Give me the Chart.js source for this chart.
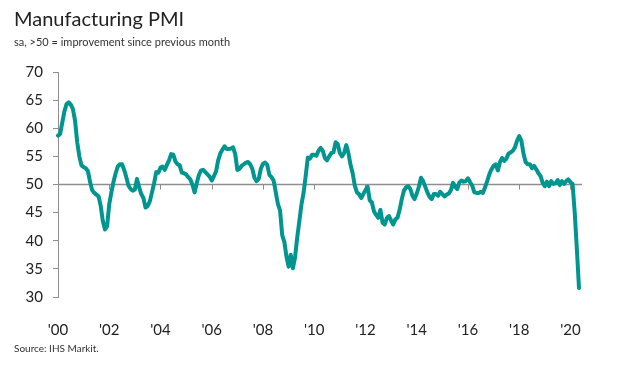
<!DOCTYPE html>
<html>
<head>
<meta charset="utf-8">
<script src="https://cdn.jsdelivr.net/npm/chart.js@4/dist/chart.umd.min.js"></script>
<style>
  body { margin: 0; background: #fff; font-family: Lato, "Open Sans", sans-serif; }
  #wrap { position: relative; width: 626px; height: 367px; }
  #chart { position: absolute; left: 0; top: 0; }
  .txt { position: absolute; left: 14px; color: #222; white-space: nowrap; }
  #titulo { top: 6px; font-size: 20px; }
  #sub { top: 35px; font-size: 11px; color: #333; }
  #fonte { top: 342px; font-size: 10px; color: #333; }
</style>
</head>
<body>
<div id="wrap">
  <canvas id="chart" width="626" height="367"></canvas>
  <div class="txt" id="titulo">Manufacturing PMI</div>
  <div class="txt" id="sub">sa, &gt;50 = improvement since previous month</div>
  <div class="txt" id="fonte">Source: IHS Markit.</div>
</div>
<script>
// leituras mensais, jan/2000 em diante
const pmi2000_2004 = [
  58.7, 59.0, 61.0, 63.0, 64.3, 64.6, 64.2, 63.4, 61.3, 57.5, 55.0, 53.4,
  53.1, 52.9, 52.4, 50.5, 49.0, 48.5, 48.2, 47.9, 46.2, 43.5, 42.0, 42.6,
  46.5, 48.6, 50.5, 52.0, 53.2, 53.6, 53.6, 52.6, 51.3, 49.8, 49.2, 48.9,
  49.1, 51.0, 49.5, 48.3, 47.6, 45.9, 46.2, 47.0, 48.6, 50.2, 52.2, 52.1,
  53.0, 53.2, 52.6, 53.5, 54.3, 55.4, 55.3, 54.1, 53.6, 53.4, 52.1, 52.0
];
const pmi2005_2009 = [
  51.8, 51.3, 50.9, 49.9, 48.6, 50.3, 51.7, 52.5, 52.6, 52.2, 51.8, 51.4,
  50.7, 51.5, 52.3, 54.3, 55.5, 56.2, 56.8, 56.3, 56.3, 56.4, 56.6, 55.4,
  52.6, 52.8, 53.3, 53.6, 53.9, 54.0, 53.6, 52.8, 51.2, 50.6, 51.0, 52.8,
  53.7, 53.9, 53.5, 51.7, 51.3, 50.7, 48.6, 46.5, 45.4, 41.0, 39.8, 37.2,
  35.4, 37.5, 35.1, 37.0, 40.5, 43.4, 46.4, 48.5, 51.5, 54.8, 54.6, 55.3
];
const pmi2010_2014 = [
  55.3, 55.1, 56.0, 56.5, 56.0, 54.7, 54.3, 55.0, 55.6, 55.7, 57.5, 57.2,
  55.6, 55.0, 55.6, 57.0, 55.6, 53.5, 52.0, 49.8, 48.6, 48.3, 47.6, 48.3,
  49.0, 49.6, 47.2, 46.8, 45.2, 44.6, 44.1, 45.5, 43.2, 42.9, 44.0, 44.4,
  43.6, 42.9, 43.8, 44.1, 45.5, 47.4, 48.9, 49.5, 49.7, 49.2, 48.0, 47.4,
  48.4, 49.6, 51.2, 50.6, 49.6, 48.6, 47.8, 47.4, 48.3, 48.3, 48.0, 48.7
];
const pmi2015_2019 = [
  48.3, 47.9, 48.2, 48.4, 49.0, 50.3, 49.6, 49.2, 50.4, 50.7, 50.5, 50.6,
  51.1, 50.4, 49.8, 48.6, 48.5, 48.5, 48.7, 48.5, 49.5, 50.6, 51.8, 52.7,
  53.3, 53.6, 52.5, 54.0, 54.7, 54.2, 54.6, 55.5, 55.7, 56.0, 56.6, 57.8,
  58.6, 57.8, 55.5, 54.0, 53.6, 53.6, 52.9, 53.3, 52.7, 52.0, 51.5, 50.3,
  49.7, 50.5, 49.7, 50.6, 50.1, 50.2, 50.8, 49.9, 50.6, 50.1, 50.6, 50.9
];
const pmi2020 = [50.4, 50.1, 45.0, 38.5, 31.6];

const pmi = [...pmi2000_2004, ...pmi2005_2009, ...pmi2010_2014, ...pmi2015_2019, ...pmi2020];

// rótulos mensais; só janeiro dos anos pares aparece no eixo
const meses = pmi.map((_, i) => {
    const ano = 2000 + Math.floor(i / 12);
    const mes = (i % 12) + 1;
    return ano + '-' + String(mes).padStart(2, '0');
});
const rotulosEixoX = ["'00", "'02", "'04", "'06", "'08", "'10", "'12", "'14", "'16", "'18", "'20"];
const ticksY = [30, 35, 40, 45, 50, 55, 60, 65, 70];

const CINZA = '#8f8f8f';

// linha do 50 com os tracinhos de cada dois anos
const linhaCinquenta = {
    id: 'linhaCinquenta',
    beforeDatasetsDraw(chart) {
        const { ctx, chartArea, scales } = chart;
        const y = scales.y.getPixelForValue(50);
        ctx.save();
        ctx.strokeStyle = CINZA;
        ctx.lineWidth = 1.5;
        ctx.beginPath();
        ctx.moveTo(chartArea.left, y);
        ctx.lineTo(chartArea.right + 3, y);
        ctx.stroke();
        ctx.lineWidth = 1;
        rotulosEixoX.forEach((_, k) => {
            if (k === 0) return;
            const x = Math.round(scales.x.getPixelForValue(k * 24)) + 0.5;
            ctx.beginPath();
            ctx.moveTo(x, y);
            ctx.lineTo(x, y + 5);
            ctx.stroke();
        });
        ctx.restore();
    }
};

new Chart(document.getElementById('chart'), {
    type: 'line',
    data: {
        labels: meses,
        datasets: [{
            label: 'Manufacturing PMI',
            data: pmi,
            borderColor: '#00968f',
            borderWidth: 4,
            borderJoinStyle: 'round',
            borderCapStyle: 'round',
            pointRadius: 0,
            tension: 0,
            fill: false
        }]
    },
    options: {
        responsive: false,
        animation: false,
        devicePixelRatio: 1,
        layout: { padding: { top: 72, right: 47, left: 0, bottom: 0 } },
        plugins: {
            legend: { display: false },
            tooltip: { enabled: false }
        },
        scales: {
            x: {
                offset: false,
                grid: { display: false },
                border: { display: false },
                ticks: {
                    autoSkip: false,
                    maxRotation: 0,
                    padding: 16,
                    color: '#222',
                    font: { family: 'Lato', size: 15 },
                    callback: (v, i) => (i % 24 === 0 ? rotulosEixoX[i / 24] : null)
                },
                afterFit: (s) => { s.height = 70; }
            },
            y: {
                min: 30,
                max: 70,
                afterBuildTicks: (s) => { s.ticks = ticksY.map(v => ({ value: v })); },
                grid: { drawOnChartArea: false, color: CINZA, tickLength: 5 },
                border: { color: CINZA, width: 1 },
                ticks: {
                    padding: 10,
                    color: '#222',
                    font: { family: 'Lato', size: 15 }
                },
                afterFit: (s) => { s.width = 58; }
            }
        }
    },
    plugins: [linhaCinquenta]
});
</script>
</body>
</html>
